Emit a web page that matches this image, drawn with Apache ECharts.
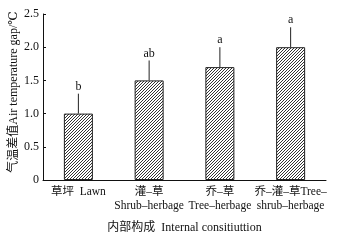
<!DOCTYPE html>
<html>
<head>
<meta charset="utf-8">
<script src="https://cdn.jsdelivr.net/npm/echarts@6/dist/echarts.min.js"></script>
<style>
  html, body { margin: 0; padding: 0; background: #fff; }
  #chart { width: 341px; height: 240px; }
</style>
</head>
<body>
<div id="chart"></div>
<script>
// 内部构成 categories
var categories = ["草坪  Lawn", "灌–草\nShrub–herbage", "乔–草\nTree–herbage", "乔–灌–草Tree–\nshrub–herbage"];
var meanValues = [1.0, 1.5, 1.7, 2.0];
var errorUpper = [1.3, 1.8, 2.0, 2.3];
var sigLetters = ["b", "ab", "a", "a"];
var yTicks = [0, 0.5, 1.0, 1.5, 2.0, 2.5];

var serif = "'Liberation Serif', 'DejaVu Serif', 'Noto Sans CJK SC', serif";

// hatch pattern for the bars (fine "////")
function makeHatch() {
  var s = 3;
  var c = document.createElement("canvas");
  c.width = s;
  c.height = s;
  var ctx = c.getContext("2d");
  ctx.fillStyle = "#ffffff";
  ctx.fillRect(0, 0, s, s);
  ctx.strokeStyle = "#333";
  ctx.lineWidth = 1;
  ctx.beginPath();
  ctx.moveTo(0, s); ctx.lineTo(s, 0);
  ctx.moveTo(-1, 1); ctx.lineTo(1, -1);
  ctx.moveTo(s - 1, s + 1); ctx.lineTo(s + 1, s - 1);
  ctx.stroke();
  return c;
}

var chart = echarts.init(document.getElementById("chart"));
var option = {
  animation: false,
  grid: { left: 41, right: 15, top: 14, bottom: 60 },
  xAxis: {
    type: "category",
    data: categories,
    name: "内部构成  Internal consitiuttion",
    nameLocation: "middle",
    nameGap: 42,
    nameMoveOverlap: false,
    nameTextStyle: { color: "#111", fontSize: 12, fontFamily: serif },
    axisLine: { lineStyle: { color: "#111", width: 1 } },
    axisTick: { inside: true, length: 3, lineStyle: { color: "#111" } },
    axisLabel: { color: "#111", fontSize: 11.5, fontFamily: serif, lineHeight: 14, margin: 5, interval: 0 }
  },
  yAxis: {
    type: "value",
    min: 0,
    max: yTicks[yTicks.length - 1],
    interval: 0.5,
    name: "气温差值Air temperature gap/℃",
    nameLocation: "middle",
    nameRotate: 90,
    nameGap: 23,
    nameMoveOverlap: false,
    nameTextStyle: { color: "#111", fontSize: 12, fontFamily: serif, padding: [0, 0, 0, 10] },
    splitLine: { show: false },
    axisLine: { show: true, lineStyle: { color: "#111", width: 1 } },
    axisTick: { show: true, inside: true, length: 3, lineStyle: { color: "#111" } },
    axisLabel: {
      color: "#111", fontSize: 12, fontFamily: serif, margin: 4,
      formatter: function (v) { return v === 0 ? "0" : v.toFixed(1); }
    }
  },
  series: [
    {
      type: "bar",
      data: meanValues,
      barWidth: 29,
      itemStyle: {
        color: { image: makeHatch(), repeat: "repeat" },
        borderColor: "#222",
        borderWidth: 1
      }
    },
    {
      type: "custom",
      data: meanValues.map(function (v, i) { return [i, v, errorUpper[i]]; }),
      renderItem: function (params, api) {
        var i = api.value(0);
        var base = api.coord([i, api.value(1)]);
        var top = api.coord([i, api.value(2)]);
        return {
          type: "group",
          children: [
            {
              type: "line",
              shape: { x1: base[0], y1: base[1], x2: top[0], y2: top[1] },
              style: { stroke: "#222", lineWidth: 1 }
            },
            {
              type: "text",
              style: {
                text: sigLetters[params.dataIndex],
                x: top[0], y: top[1] - 1,
                textAlign: "center", textVerticalAlign: "bottom",
                fill: "#111", font: "12px " + serif
              }
            }
          ]
        };
      },
      z: 5
    }
  ]
};
chart.setOption(option);
</script>
</body>
</html>
